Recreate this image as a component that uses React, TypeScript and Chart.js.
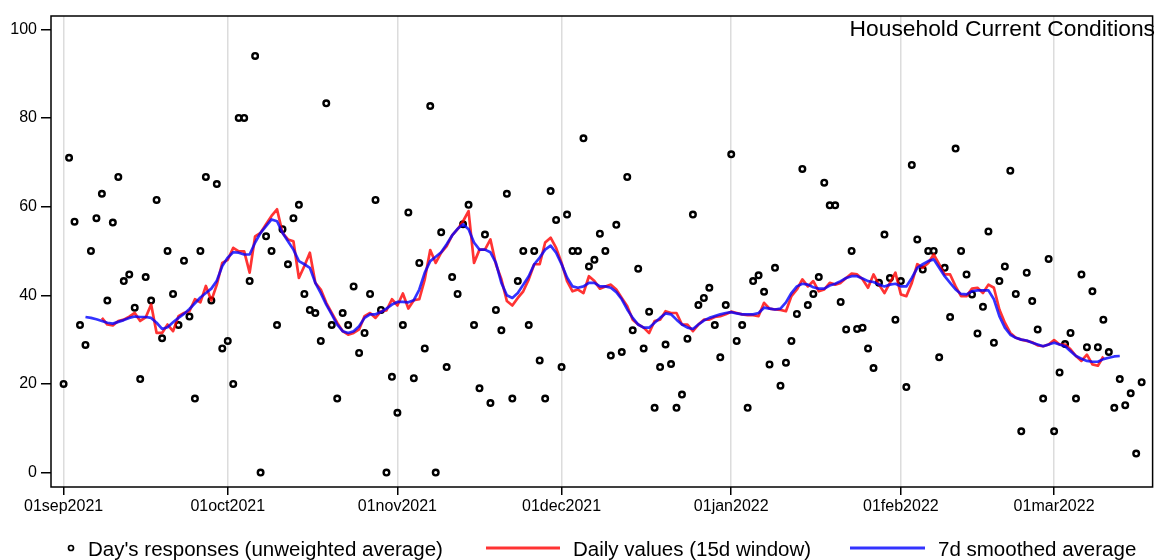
import React, { useEffect, useRef } from "react";
import { Chart, registerables } from "chart.js";

Chart.register(...registerables);

// Day index 0 = 01sep2021
const responsesStartDay = 0;
const responses = [
  20, 71, 56.6, 33.3, 28.8, 50, 57.4, 62.9, 38.8, 56.4,
  66.7, 43.2, 44.7, 37.2, 21.1, 44.1, 38.8, 61.5, 30.3, 50,
  40.3, 33.3, 47.8, 35.2, 16.7, 50, 66.7, 38.8, 65.1, 28,
  29.7, 20, 80, 80, 43.2, 94, 0, 53.3, 50, 33.3,
  54.9, 47, 57.4, 60.4, 40.3, 36.7, 36, 29.7, 83.3, 33.3,
  16.7, 36, 33.3, 42, 27, 31.5, 40.3, 61.5, 36.7, 0,
  21.6, 13.5, 33.3, 58.7, 21.3, 47.3, 28, 82.7, 0, 54.2,
  23.8, 44.1, 40.3, 56, 60.4, 33.3, 19, 53.7, 15.7, 36.7,
  32.1, 62.9, 16.7, 43.2, 50, 33.3, 50, 25.3, 16.7, 63.5,
  57, 23.8, 58.2, 50, 50, 75.4, 46.5, 48, 53.9, 50,
  26.4, 55.9, 27.2, 66.7, 32.1, 46, 28, 36.3, 14.6, 23.8,
  28.9, 24.5, 14.6, 17.6, 30.2, 58.2, 37.8, 39.4, 41.7, 33.3,
  26, 37.8, 71.8, 29.7, 33.3, 14.6, 43.2, 44.5, 40.8, 24.4,
  46.2, 19.6, 24.8, 29.7, 35.8, 68.5, 37.8, 40.3, 44.1, 65.4,
  60.3, 60.3, 38.5, 32.3, 50, 32.4, 32.7, 28, 23.6, 42.8,
  53.7, 43.9, 34.5, 43.2, 19.3, 69.4, 52.6, 45.8, 50, 50,
  26, 46.2, 35.1, 73.1, 50, 44.7, 40.2, 31.4, 37.4, 54.4,
  29.3, 43.2, 46.5, 68.1, 40.3, 9.3, 45.1, 38.7, 32.3, 16.7,
  48.2, 9.3, 22.6, 29, 31.5, 16.7, 44.7, 28.3, 40.9, 28.3,
  34.5, 27.2, 14.6, 21.1, 15.2, 17.9, 4.3, 20.4,
];

const daily15StartDay = 7;
const daily15 = [
  34.9, 33.4, 33.2,
  34.2, 34.5, 35.2, 36.0, 34.2, 35.0, 37.9, 31.5, 31.5, 33.4,
  31.9, 35.3, 36.0, 36.4, 39.1, 38.4, 42.1, 38.8, 42.4, 47.3,
  48.0, 50.7, 49.9, 49.9, 45.1, 53.3, 54.1, 56.0, 57.9, 59.4,
  54.1, 52.6, 52.2, 43.9, 46.6, 49.6, 42.8, 41.3, 38.3, 36.0,
  33.8, 31.9, 31.1, 31.5, 32.3, 35.3, 36.0, 34.9, 36.4, 36.6,
  39.1, 37.7, 40.4, 37.0, 38.9, 39.1, 43.6, 50.2, 47.3, 49.6,
  51.1, 53.5, 54.9, 56.7, 59.0, 47.3, 50.3, 50.3, 52.6, 47.0,
  43.6, 38.7, 37.7, 39.4, 40.9, 43.6, 47.0, 47.0, 51.9, 53.0,
  50.7, 47.3, 43.2, 40.9, 41.3, 40.5, 44.3, 43.2, 41.5, 42.0,
  42.4, 41.3, 39.4, 37.5, 34.5, 33.4, 32.7, 31.5, 34.2, 34.5,
  36.4, 36.0, 36.0, 33.4, 33.4, 31.9, 33.4, 34.5, 34.5, 35.1,
  35.3, 35.7, 36.3, 36.0, 35.7, 35.5, 35.5, 35.3, 38.3, 37.0,
  36.8, 36.7, 36.4, 39.8, 41.3, 43.6, 42.0, 43.2, 40.9, 41.3,
  42.8, 42.4, 42.8, 43.9, 44.9, 44.7, 43.6, 41.7, 44.7, 42.4,
  40.5, 42.8, 45.1, 40.2, 39.8, 42.8, 47.0, 46.2, 47.3, 49.2,
  47.0, 44.7, 44.7, 42.0, 39.8, 39.8, 41.5, 41.7, 40.5, 42.4,
  41.7, 36.8, 33.8, 31.5, 30.4, 30.0, 29.7, 29.4, 28.7, 28.5,
  28.9, 29.9, 28.9, 28.9, 27.8, 26.3, 25.2, 26.6, 24.4, 24.1, 26.2,
];

const smooth7StartDay = 4;
const smooth7 = [
  35.1, 34.9, 34.6, 34.2, 33.8, 33.6,
  34.0, 34.4, 34.9, 35.2, 35.1, 35.1, 34.9, 33.8, 32.4, 32.8,
  33.9, 34.9, 35.8, 36.9, 38.2, 39.5, 40.5, 41.5, 43.3, 46.6,
  48.5, 49.7, 49.6, 49.2, 49.2, 51.9, 54.1, 55.6, 57.1, 56.7,
  54.1, 52.2, 50.3, 47.7, 47.0, 46.2, 42.8, 40.5, 37.9, 35.7,
  33.4, 31.9, 31.5, 31.9, 33.0, 34.9, 35.7, 35.7, 36.2, 37.0,
  37.9, 38.5, 38.5, 38.4, 38.9, 41.3, 45.1, 47.7, 48.7, 49.7,
  51.5, 53.5, 55.0, 56.0, 54.9, 51.9, 50.3, 50.3, 49.7, 47.3,
  42.8, 40.0, 39.4, 40.5, 42.4, 44.3, 47.0, 48.5, 50.3, 51.2,
  49.6, 47.0, 44.0, 42.0, 41.7, 42.0, 42.8, 42.8, 42.0, 42.0,
  41.7, 40.7, 39.1, 36.8, 34.9, 33.4, 32.7, 32.7, 33.8, 34.9,
  35.9, 35.7, 34.5, 33.4, 32.7, 32.4, 33.4, 34.3, 34.9, 35.3,
  35.7, 36.0, 36.2, 35.9, 35.7, 35.7, 35.7, 36.0, 37.2, 37.0,
  36.8, 37.0, 38.4, 40.5, 42.0, 42.6, 42.4, 41.8, 41.5, 41.5,
  42.2, 42.6, 43.2, 43.9, 44.3, 44.3, 43.8, 43.2, 43.0, 42.4,
  42.0, 42.4, 42.6, 42.0, 42.0, 43.9, 46.2, 47.0, 47.7, 48.1,
  46.2, 44.3, 42.8, 41.3, 40.3, 40.2, 40.9, 41.1, 41.1, 41.1,
  39.1, 35.3, 32.7, 31.1, 30.4, 30.0, 29.8, 29.3, 28.9, 28.5,
  28.9, 29.3, 28.9, 28.5, 27.4, 26.3, 25.7, 25.2, 25.0, 25.0,
  25.6, 25.9, 26.2, 26.3,
];

const tickDays = [0, 30, 61, 91, 122, 153, 181];
const tickLabels = ["01sep2021", "01oct2021", "01nov2021", "01dec2021", "01jan2022", "01feb2022", "01mar2022"];
const yTicks = [0, 20, 40, 60, 80, 100];
const chartTitle = "Household Current Conditions";
const legendLabels = [
  "Day's responses (unweighted average)",
  "Daily values (15d window)",
  "7d smoothed average",
];

const FONT = "'Liberation Sans', Arial, Helvetica, sans-serif";
const RED = "rgba(255,0,0,0.8)";
const BLUE = "rgba(0,0,255,0.8)";

export default function App() {
  const ref = useRef<HTMLCanvasElement>(null);

  useEffect(() => {
    document.body.style.margin = "0";
    const toXY = (arr: number[], start: number) => arr.map((v, i) => ({ x: start + i, y: v }));

    const decor = {
      id: "decor",
      afterDraw(chart: any) {
        const { ctx, chartArea: a } = chart;
        ctx.save();
        ctx.strokeStyle = "#000";
        ctx.lineWidth = 1.5;
        ctx.strokeRect(a.left, a.top, a.right - a.left, a.bottom - a.top);

        ctx.fillStyle = "#000";
        ctx.font = `22.8px ${FONT}`;
        ctx.textAlign = "right";
        ctx.textBaseline = "alphabetic";
        ctx.fillText(chartTitle, 1155, 36);

        // legend
        const ly = 548;
        ctx.font = `20.5px ${FONT}`;
        ctx.textAlign = "left";
        ctx.textBaseline = "alphabetic";
        ctx.beginPath();
        ctx.arc(71, ly, 2.5, 0, Math.PI * 2);
        ctx.lineWidth = 1.7;
        ctx.strokeStyle = "#000";
        ctx.stroke();
        ctx.fillText(legendLabels[0], 88, 556);

        ctx.lineWidth = 3;
        ctx.strokeStyle = RED;
        ctx.beginPath();
        ctx.moveTo(486, ly);
        ctx.lineTo(560, ly);
        ctx.stroke();
        ctx.fillText(legendLabels[1], 573, 556);

        ctx.strokeStyle = BLUE;
        ctx.beginPath();
        ctx.moveTo(850, ly);
        ctx.lineTo(925, ly);
        ctx.stroke();
        ctx.fillText(legendLabels[2], 938, 556);
        ctx.restore();
      },
    };

    Chart.defaults.font.family = FONT;
    Chart.defaults.font.size = 16;
    Chart.defaults.color = "#000";

    const chart = new Chart(ref.current!, {
      type: "line",
      data: {
        datasets: [
          {
            label: legendLabels[2],
            data: toXY(smooth7, smooth7StartDay),
            borderColor: BLUE,
            borderWidth: 2.7,
            pointRadius: 0,
            tension: 0,
            borderJoinStyle: "round",
            order: 1,
          },
          {
            label: legendLabels[1],
            data: toXY(daily15, daily15StartDay),
            borderColor: RED,
            borderWidth: 2.7,
            pointRadius: 0,
            tension: 0,
            borderJoinStyle: "round",
            order: 2,
          },
          {
            label: legendLabels[0],
            data: toXY(responses, responsesStartDay),
            showLine: false,
            pointRadius: 2.8,
            pointBorderWidth: 2.4,
            pointBorderColor: "#000",
            pointBackgroundColor: "rgba(0,0,0,0)",
            borderColor: "#000",
            order: 3,
          },
        ],
      },
      options: {
        animation: false,
        responsive: false,
        devicePixelRatio: 1,
        layout: { padding: { top: 16, right: 1, left: 0, bottom: 0 } },
        plugins: { legend: { display: false }, tooltip: { enabled: false }, title: { display: false } },
        scales: {
          x: {
            type: "linear",
            min: -2.3,
            max: 199,
            border: { display: false },
            grid: {
              color: "#dcdcdc",
              lineWidth: 1.5,
              tickColor: "#000",
              tickLength: 8,
              tickWidth: 1.5,
            },
            ticks: {
              autoSkip: false,
              maxRotation: 0,
              padding: 2,
              font: { size: 16 },
              color: "#000",
              callback: (v: any) => {
                const i = tickDays.indexOf(Number(v));
                return i >= 0 ? tickLabels[i] : "";
              },
            },
            afterBuildTicks: (s: any) => {
              s.ticks = tickDays.map((v) => ({ value: v }));
            },
            afterFit: (s: any) => {
              s.height = 73;
            },
          },
          y: {
            type: "linear",
            min: -3.25,
            max: 103,
            border: { display: false },
            grid: {
              drawOnChartArea: false,
              tickColor: "#000",
              tickLength: 10,
              lineWidth: 1.5,
            },
            ticks: { padding: 4, font: { size: 16 }, color: "#000" },
            afterBuildTicks: (s: any) => {
              s.ticks = yTicks.map((v) => ({ value: v }));
            },
            afterFit: (s: any) => {
              s.width = 51;
            },
          },
        },
      },
      plugins: [decor],
    });
    return () => chart.destroy();
  }, []);

  return (
    <div style={{ position: "absolute", left: 0, top: 0, width: 1159, height: 560, background: "#fff" }}>
      <canvas ref={ref} width={1159} height={560} style={{ width: 1159, height: 560 }} />
    </div>
  );
}
